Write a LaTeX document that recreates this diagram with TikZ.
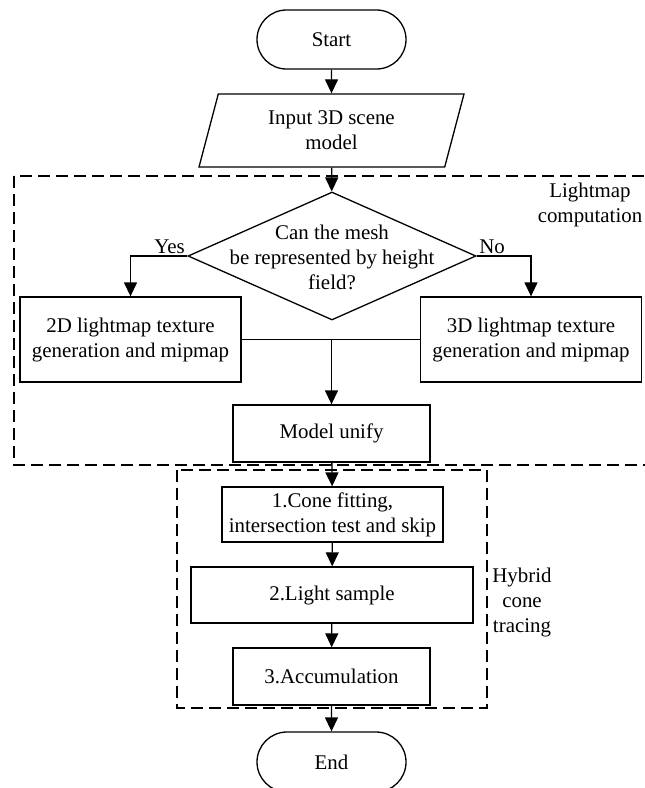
\documentclass[tikz,border=0pt]{standalone}
\usepackage{fontspec}
\setmainfont{Liberation Serif}
\usetikzlibrary{shapes.geometric,shapes.misc,arrows.meta}

\tikzset{
    every node/.style={font=\fontsize{20.9}{25}\selectfont},
    base/.style={draw, line width=1.3pt, align=center, inner sep=0pt},
    terminal/.style={base, rounded rectangle, minimum width=149pt, minimum height=59pt},
    inout/.style={base, trapezium, trapezium left angle=63.7, trapezium right angle=116.3,
        trapezium stretches body, minimum width=265pt, minimum height=73pt},
    decision/.style={base, diamond, minimum width=288pt, minimum height=128pt},
    process/.style={base, rectangle},
    arr/.style={line width=1.3pt, -{Triangle[length=14pt,width=13pt]}},
    region/.style={line width=1.2pt, dash pattern=on 12pt off 6pt},
    regionlabel/.style={align=center, inner sep=0pt}
}

\begin{document}
\begin{tikzpicture}[x=1pt,y=-1pt]
    \useasboundingbox (0,0) rectangle (645,788);
    \clip (0,0) rectangle (645,788);

    % regions
    \draw[region] (14,176) rectangle (670,465);
    \draw[region] (177,470) rectangle (487,708);
    \node[regionlabel] (lmtext) at (590,205) {Lightmap\\computation};
    \node[regionlabel] (hctext) at (522,602) {Hybrid\\cone\\tracing};

    % flow
    \node[terminal] (start) at (331.5,39.5) {Start};
    \node[inout] (input) at (331.5,130.5) {Input 3D scene\\model};
    \node[decision] (check) at (332,256)
        {\makebox[0pt]{\smash{\raisebox{-9pt}{\begin{tabular}{@{}c@{}}Can the mesh\\be represented by height\\field?\end{tabular}}}}};
    \node[process, minimum width=221pt, minimum height=85pt] (lm2d) at (130.5,339.5)
        {2D lightmap texture\\generation and mipmap};
    \node[process, minimum width=221pt, minimum height=85pt] (lm3d) at (531,339.5)
        {3D lightmap texture\\generation and mipmap};
    \node[process, minimum width=197pt, minimum height=57pt] (unify) at (331.5,433.5) {Model unify};
    \node[process, minimum width=221pt, minimum height=55pt] (cone) at (332.5,514.5)
        {1.Cone fitting,\\intersection test and skip};
    \node[process, minimum width=282pt, minimum height=56pt] (light) at (332,595) {2.Light sample};
    \node[process, minimum width=197pt, minimum height=57pt] (accum) at (331.5,676.5) {3.Accumulation};
    \node[terminal, minimum height=60pt] (end) at (331.5,762) {End};

    % connectors
    \draw[arr] (start) -- (input);
    \draw[arr] (input) -- (check);
    \draw[arr] (check.west) node[anchor=south east, inner sep=2pt] {Yes} -| (lm2d.north);
    \draw[arr] (check.east) node[anchor=south west, inner sep=2pt] {No} -| (lm3d.north);
    \draw[line width=1.3pt] (lm2d.east) -- (lm3d.west);
    \coordinate (join) at (lm2d.east -| unify.north);
    \draw[arr] (join) -- (unify);
    \draw[arr] (unify) -- (cone);
    \draw[arr] (cone) -- (light);
    \draw[arr] (light) -- (accum);
    \draw[arr] (accum) -- (end);
\end{tikzpicture}
\end{document}
